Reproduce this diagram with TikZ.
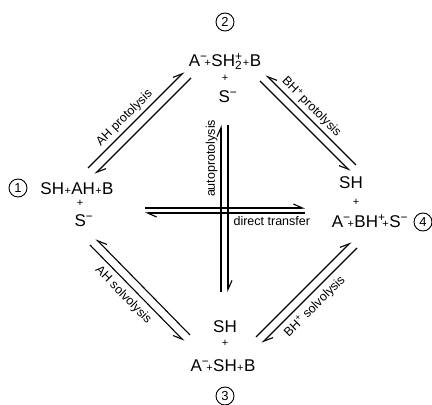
\documentclass[tikz,border=0pt]{standalone}
\usepackage{fontspec}
\setmainfont{Liberation Sans}
\usetikzlibrary{positioning,arrows.meta}
\newcommand{\pl}{\kern0.4pt{\fontsize{11}{11}\selectfont+}\kern0.4pt}
\newcommand{\mn}{\rlap{\textsuperscript{\textminus}}\kern4pt}
\newcommand{\ps}{\rlap{\textsuperscript{+}}\kern4pt}
\tikzset{
    species/.style={font=\fontsize{17}{17}\selectfont, inner sep=0pt},
    plussign/.style={font=\fontsize{11}{11}\selectfont, inner sep=0pt},
    statenum/.style={draw, circle, line width=0.9pt, minimum size=18pt, inner sep=0pt, font=\fontsize{13}{13}\selectfont},
    eqlabel/.style={font=\fontsize{12.5}{12.5}\selectfont, inner sep=1pt},
    harpl/.style={draw, line width=1.1pt, -{Straight Barb[left, length=9pt, width=8pt]}},
    harpr/.style={draw, line width=1.1pt, -{Straight Barb[right, length=9pt, width=8pt]}}
}
\begin{document}
\begin{tikzpicture}[x=1pt, y=1pt]
    \useasboundingbox (0,0) rectangle (432,405);

    % state 2 (top)
    \node[statenum] (n2) at (225,383) {2};
    \node[species, anchor=base] (s2) at (225,338) {A\mn\pl SH\rlap{\textsubscript{2}}\textsuperscript{+}\pl B};
    \node[plussign, anchor=base] (p2) at ([yshift=-15pt]s2.base) {+};
    \node[species, anchor=base] (m2) at ([xshift=3pt, yshift=-36pt]s2.base) {S\textsuperscript{\textminus}};

    % state 1 (left)
    \node[statenum] (n1) at (18,217) {1};
    \node[species, anchor=base] (s1) at (77,210) {SH\pl AH\pl B};
    \node[plussign, anchor=base] (p1) at ([xshift=3pt, yshift=-12pt]s1.base) {+};
    \node[species, anchor=base] (m1) at ([xshift=7pt, yshift=-32pt]s1.base) {S\textsuperscript{\textminus}};

    % state 4 (right)
    \node[statenum] (n4) at (423,183) {4};
    \node[species, anchor=base] (s4) at (370,177) {A\mn\pl BH\ps\pl S\textsuperscript{\textminus}};
    \node[plussign, anchor=base] (p4) at ([xshift=-14pt, yshift=22pt]s4.base) {+};
    \node[species, anchor=base] (h4) at ([xshift=-19pt, yshift=39pt]s4.base) {SH};

    % state 3 (bottom)
    \node[statenum] (n3) at (225,9) {3};
    \node[species, anchor=base] (s3) at (223,33) {A\mn\pl SH\pl B};
    \node[plussign, anchor=base] (p3) at ([xshift=2pt, yshift=25pt]s3.base) {+};
    \node[species, anchor=base] (h3) at ([xshift=2pt, yshift=39pt]s3.base) {SH};

    % AH protolysis, 1 <-> 2
    \coordinate (ap1) at (88,237);  \coordinate (ap2) at (184,333);
    \coordinate (ap3) at (95,231);  \coordinate (ap4) at (191,327);
    \draw[harpl] (ap1) -- node[eqlabel, pos=0.45, sloped, above=2pt] {AH protolysis} (ap2);
    \draw[harpl] (ap4) -- (ap3);

    % BH+ protolysis, 2 <-> 4
    \coordinate (bp1) at (356,240); \coordinate (bp2) at (266,330);
    \coordinate (bp3) at (260,324); \coordinate (bp4) at (350,234);
    \draw[harpr] (bp1) -- node[eqlabel, pos=0.57, sloped, above=2pt] {BH\textsuperscript{+}\,protolysis} (bp2);
    \draw[harpr] (bp3) -- (bp4);

    % AH solvolysis, 1 <-> 3
    \coordinate (as1) at (90,160);  \coordinate (as2) at (184,64);
    \coordinate (as3) at (96,166);  \coordinate (as4) at (190,70);
    \draw[harpr] (as1) -- node[eqlabel, pos=0.44, sloped, below=4pt] {AH solvolysis} (as2);
    \draw[harpr] (as4) -- (as3);

    % BH+ solvolysis, 3 <-> 4
    \coordinate (bs1) at (357,157); \coordinate (bs2) at (262,62);
    \coordinate (bs3) at (256,68);  \coordinate (bs4) at (351,163);
    \draw[harpl] (bs1) -- node[eqlabel, pos=0.53, sloped, below=4pt] {BH\textsuperscript{+} solvolysis} (bs2);
    \draw[harpl] (bs3) -- (bs4);

    % autoprotolysis, 2 <-> 3
    \coordinate (au1) at (221,113); \coordinate (au2) at (221,280);
    \coordinate (au3) at (228,280); \coordinate (au4) at (228,113);
    \draw[harpl] (au1) -- node[eqlabel, pos=0.8, sloped, above=2pt] {autoprotolysis} (au2);
    \draw[harpl] (au3) -- (au4);

    % direct transfer, 1 <-> 4
    \coordinate (dt1) at (145,197); \coordinate (dt2) at (305,197);
    \coordinate (dt3) at (305,192); \coordinate (dt4) at (145,192);
    \draw[harpl] (dt1) -- (dt2);
    \draw[harpl] (dt3) -- node[eqlabel, pos=0.456, below=2pt, anchor=north west] {direct transfer} (dt4);
\end{tikzpicture}
\end{document}
